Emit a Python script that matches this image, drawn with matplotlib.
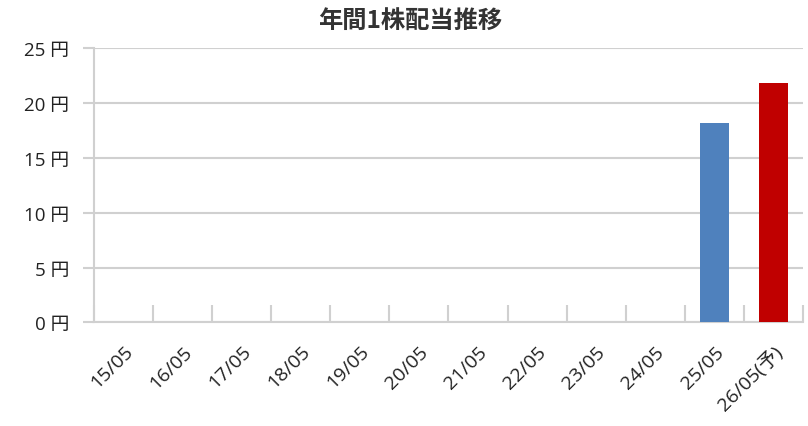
import numpy as np
import matplotlib.pyplot as plt

plt.rcParams['font.family'] = ['Open Sans', 'Noto Sans CJK JP', 'DejaVu Sans']

categories = ['15/05', '16/05', '17/05', '18/05', '19/05', '20/05',
              '21/05', '22/05', '23/05', '24/05', '25/05', '26/05(予)']
dividends = [0, 0, 0, 0, 0, 0, 0, 0, 0, 0, 18.2, 21.8]
bar_colors = ['#4F81BD'] * 11 + ['#C00000']
yticks = [0, 5, 10, 15, 20, 25]

fig = plt.figure(figsize=(8.08, 4.27), dpi=100)
ax = fig.add_axes([0.1163, 0.2424, 0.8775, 0.6428])

x = np.arange(len(categories))
ax.bar(x, dividends, width=0.5, color=bar_colors, zorder=3)

ax.set_xlim(-0.5, len(categories) - 0.5)
ax.set_ylim(0, 25)

grid_c = '#D0D0D0'
ax.set_yticks(yticks)
ax.set_yticklabels([f'{v} 円' for v in yticks], fontsize=13.5, color='#222222')
ax.yaxis.grid(True, color=grid_c, linewidth=1.5, zorder=0)
ax.tick_params(axis='y', length=8, width=1.5, color=grid_c, pad=10)

# category labels at centers, tick marks at the boundaries
ax.set_xticks(x)
ax.set_xticklabels(categories, rotation=45, ha='right', rotation_mode='anchor',
                   fontsize=14, color='#222222')
ax.tick_params(axis='x', which='major', length=0, pad=14)
ax.set_xticks(np.arange(len(categories) + 1) - 0.5, minor=True)
ax.tick_params(axis='x', which='minor', direction='in', length=12, width=1.5, color=grid_c)

for side in ['top', 'right']:
    ax.spines[side].set_visible(False)
ax.spines['left'].set_color(grid_c)
ax.spines['bottom'].set_color(grid_c)
ax.spines['left'].set_linewidth(1.5)
ax.spines['bottom'].set_linewidth(1.5)

fig.text(0.507, 0.948, '年間1株配当推移', ha='center', va='center',
         fontsize=17.5, fontweight='bold', color='#333333',
         family=['Noto Sans CJK JP', 'DejaVu Sans'])

plt.savefig('out.png', dpi=100)
